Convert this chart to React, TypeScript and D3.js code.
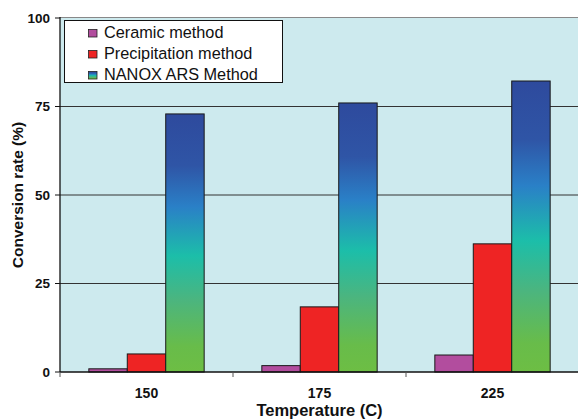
import React from "react";
import * as d3 from "d3";

const categories = ["150", "175", "225"];
const seriesNames = ["Ceramic method", "Precipitation method", "NANOX ARS Method"];
const ceramic = [0.9, 1.8, 4.8];
const precipitation = [5.1, 18.4, 36.2];
const nanox = [72.9, 76.0, 82.2];
const yTicks = [0, 25, 50, 75, 100];

const W = 578;
const H = 420;
const M = { left: 60, right: -1, top: 18, bottom: 48 };

export default function App() {
  const innerW = W - M.left - M.right;
  const x0 = d3.scaleBand<string>().domain(categories).range([M.left, M.left + innerW]).paddingInner(0).paddingOuter(0);
  const x1 = d3.scaleBand<string>().domain(seriesNames).range([0, x0.bandwidth()]).paddingOuter(0.75).paddingInner(0);
  const y = d3.scaleLinear().domain([0, 100]).range([H - M.bottom, M.top]);
  const y0 = y(0);
  const values = [ceramic, precipitation, nanox];
  const fills = ["#b24d9e", "#ee2424", "url(#gradNanox)"];
  const font = "'Liberation Sans', Arial, sans-serif";

  const boundaries = d3.range(categories.length + 1).map((i) => M.left + i * x0.bandwidth());

  return (
    <svg width={W} height={H} style={{ position: "absolute", left: 0, top: 0 }}>
      <defs>
        <linearGradient id="gradNanox" x1="0" y1="0" x2="0" y2="1">
          <stop offset="0" stopColor="#2e4a9d" />
          <stop offset="0.2" stopColor="#2f55a6" />
          <stop offset="0.36" stopColor="#2a80c7" />
          <stop offset="0.55" stopColor="#1cbea9" />
          <stop offset="0.72" stopColor="#4bb57f" />
          <stop offset="0.9" stopColor="#68bc4a" />
          <stop offset="1" stopColor="#6dbe44" />
        </linearGradient>
      </defs>
      <rect x={0} y={0} width={W} height={H} fill="#ffffff" />
      <rect x={M.left} y={M.top} width={innerW} height={y0 - M.top} fill="#cdeaee" />
      <line x1={M.left} x2={W} y1={M.top - 0.5} y2={M.top - 0.5} stroke="#888" strokeWidth={1.2} />
      {yTicks.filter((t) => t > 0 && t < 100).map((t) => (
        <line key={t} x1={M.left} x2={W} y1={y(t)} y2={y(t)} stroke="#333" strokeWidth={1} />
      ))}
      {categories.map((c, ci) =>
        values.map((vals, si) => {
          const bx = (x0(c) as number) + (x1(seriesNames[si]) as number);
          const by = y(vals[ci]);
          return (
            <rect
              key={c + si}
              x={bx}
              y={by}
              width={x1.bandwidth()}
              height={y0 - by}
              fill={fills[si]}
              stroke="#1a1a1a"
              strokeWidth={1}
            />
          );
        })
      )}
      <line x1={M.left} x2={W} y1={y0} y2={y0} stroke="#111" strokeWidth={1.3} />
      <line x1={M.left} x2={M.left} y1={M.top - 1} y2={y0} stroke="#111" strokeWidth={1.3} />
      {yTicks.map((t) => (
        <g key={t}>
          <line x1={M.left - 5} x2={M.left} y1={y(t)} y2={y(t)} stroke="#111" strokeWidth={1} />
          <text x={50} y={y(t)} dy="0.35em" textAnchor="end" fontFamily={font} fontWeight="bold" fontSize={13.5} fill="#111">
            {t}
          </text>
        </g>
      ))}
      {boundaries.map((bx, i) => (
        <line key={i} x1={bx} x2={bx} y1={y0} y2={y0 + 5} stroke="#555" strokeWidth={1} />
      ))}
      {categories.map((c) => (
        <text key={c} x={(x0(c) as number) + x0.bandwidth() / 2} y={398} textAnchor="middle" fontFamily={font} fontWeight="bold" fontSize={14} fill="#111">
          {c}
        </text>
      ))}
      <text x={M.left + innerW / 2} y={416} textAnchor="middle" fontFamily={font} fontWeight="bold" fontSize={16.5} fill="#111">
        Temperature (C)
      </text>
      <text transform={`translate(23,${195}) rotate(-90)`} textAnchor="middle" fontFamily={font} fontWeight="bold" fontSize={15.5} fill="#111">
        Conversion rate (%)
      </text>
      <g>
        <rect x={64.5} y={20.5} width={218} height={62} fill="#ffffff" stroke="#111" strokeWidth={1} />
        {seriesNames.map((s, i) => (
          <g key={s}>
            <rect x={88.5} y={29.5 + i * 21} width={8.5} height={7.5} fill={fills[i]} stroke="#222" strokeWidth={0.8} />
            <text x={104} y={37.5 + i * 21} fontFamily={font} fontSize={16.3} fill="#111">
              {s}
            </text>
          </g>
        ))}
      </g>
    </svg>
  );
}
